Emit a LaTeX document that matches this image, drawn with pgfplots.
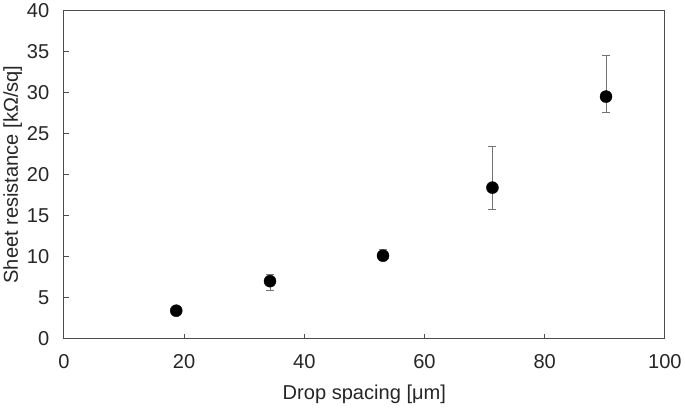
\documentclass[border=0pt]{standalone}
\usepackage{fontspec}
\setmainfont{Liberation Sans}
\usepackage{pgfplots}
\pgfplotsset{compat=1.18}
\begin{document}
\begin{tikzpicture}
\begin{axis}[
  scale only axis, width=599pt, height=327pt,
  xmin=0, xmax=100, ymin=0, ymax=40,
  xtick={0,20,...,100}, ytick={0,5,...,40},
  tick align=inside, xtick pos=bottom, ytick pos=left,
  major tick length=5pt,
  axis line style={black!70, line width=0.9pt},
  tick style={black!70, line width=0.9pt},
  /pgf/number format/assume math mode=true,
  ticklabel style={font=\fontsize{20}{24}\selectfont, black!85},
  label style={font=\fontsize{20}{24}\selectfont, black!85},
  xlabel={Drop spacing [μm]},
  ylabel={Sheet resistance [kΩ/sq]},
  xticklabel style={yshift=-12pt},
  yticklabel style={xshift=-11pt},
  xlabel style={yshift=-10pt},
  ylabel style={yshift=-2pt},
]
\addplot[only marks, mark=*, mark size=6pt, black,
  error bars/.cd, y dir=both, y explicit,
  error bar style={black!55, line width=1pt},
  error mark options={rotate=90, mark size=4pt, black!55, line width=1pt}]
  table[x=x, y=y, y error plus=ep, y error minus=em] {
x     y     ep    em
18.7  3.4   0.3   0.3
34.3  7.0   0.8   1.1
53.1  10.1  0.8   0.6
71.3  18.4  5.0   2.7
90.2  29.5  5.0   2.0
};
\end{axis}
\end{tikzpicture}
\end{document}
